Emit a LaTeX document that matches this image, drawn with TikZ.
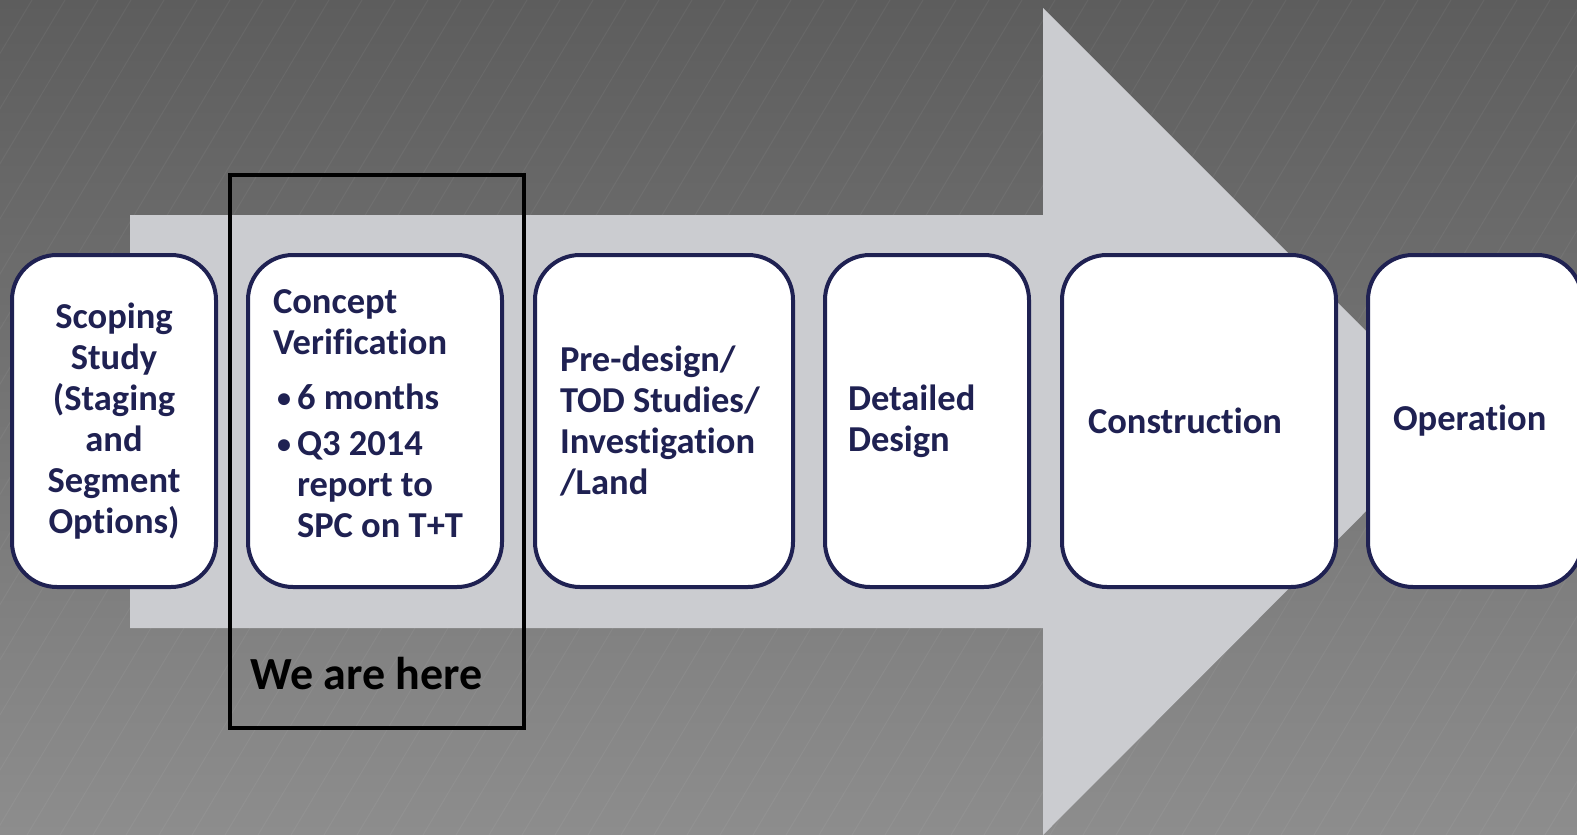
\documentclass[tikz,border=0pt]{standalone}
\usepackage{fontspec}
\setmainfont{Carlito}[RawFeature={-liga;-clig;-dlig}]
\usetikzlibrary{positioning}
\definecolor{navy}{HTML}{1F2152}
\definecolor{arrowgray}{HTML}{CBCCD0}
\definecolor{bgtop}{HTML}{5D5D5D}
\definecolor{bgbottom}{HTML}{8D8D8D}
\tikzstyle{stage} = [rectangle, rounded corners=45pt, draw=navy, line width=4pt, fill=white, text=navy, font=\bfseries\fontsize{36.5}{41}\selectfont, minimum height=332pt, inner xsep=25pt, inner ysep=0pt, align=flush left]
\tikzstyle{herebox} = [rectangle, draw=black, line width=4pt, minimum width=294pt, minimum height=553pt]
\tikzstyle{herelabel} = [font=\bfseries\fontsize{46}{50}\selectfont, text=black, inner sep=0pt]
\newcommand{\stagebullet}{\makebox[24pt][l]{\hspace{4pt}\raisebox{2pt}{\fontsize{28}{28}\selectfont\textbullet}}}

\begin{document}
\begin{tikzpicture}[x=1pt, y=-1pt]
\useasboundingbox (0,0) rectangle (1577,835);
% background and big arrow
\shade[top color=bgtop, bottom color=bgbottom] (0,0) rectangle (1577,835);
\foreach \i in {-600,-567,...,1600}
  \draw[white, opacity=0.05, line width=1pt] (\i,835) -- (\i+500,0);
\fill[arrowgray] (130,215) -- (1043,215) -- (1043,8) -- (1456,421) -- (1043,835) -- (1043,628) -- (130,628) -- cycle;
% stages
\node (scoping) [stage, text width=154pt, align=flush center] at (114,421) {Scoping\\Study\\(Staging\\and\\Segment\\Options)};
\node (concept) [stage, text width=204pt] at (375,421) {Concept\\Verification\\[14pt]\stagebullet 6 months\\[5pt]\stagebullet Q3 2014\\\hspace*{24pt}report to\\\hspace*{24pt}SPC on T+T\\[-26pt]\mbox{}};
\node (predesign) [stage, text width=208pt] at (664,421) {Pre-design/\\TOD Studies/\\Investigation\\/Land};
\node (detailed) [stage, text width=158pt, inner xsep=23pt] at (927,421) {Detailed\\Design};
\node (construction) [stage, text width=222pt, inner xsep=26pt] at (1199,421) {Construction};
\node (operation) [stage, text width=164pt] at (1475,421) {Operation};
% current stage marker
\node (here) [herebox] at (377,451.5) {};
\node (herelbl) [herelabel, anchor=base west] at (250,689) {We are here};
\end{tikzpicture}
\end{document}
